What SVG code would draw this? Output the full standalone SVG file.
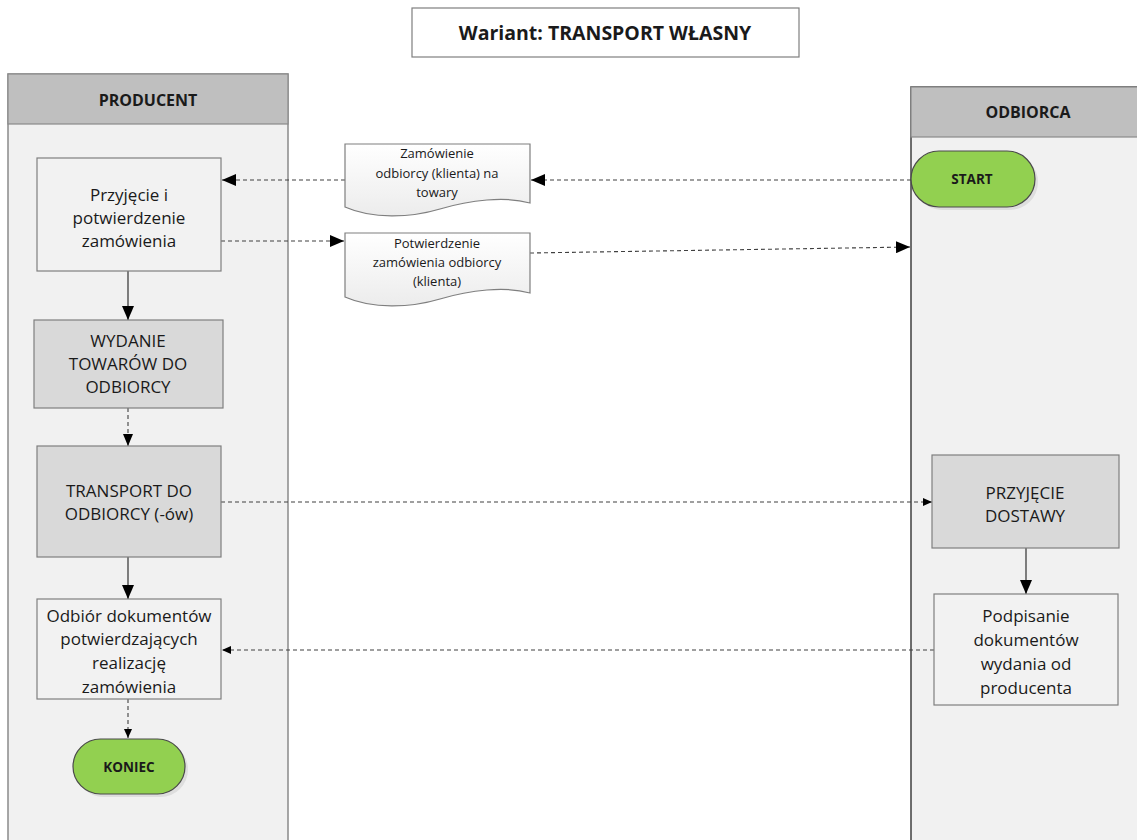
<svg xmlns="http://www.w3.org/2000/svg" width="1137" height="840" viewBox="0 0 1137 840">
  <defs>
    <style>
      text { font-family: "Open Sans", "Liberation Sans", sans-serif; fill: #1a1a1a; text-anchor: middle; dominant-baseline: central; }
      .t { font-size: 17px; }
      .d { font-size: 13px; }
      .h { font-size: 16px; font-weight: bold; }
      .ttl { font-size: 19.5px; font-weight: bold; }
      .term { font-size: 13.5px; font-weight: bold; }
      .lane { fill: #f1f1f1; stroke: #8a8a8a; stroke-width: 1.5; }
      .lane2 { fill: #f1f1f1; stroke: #404040; stroke-width: 1.5; }
      .head { fill: #bfbfbf; stroke: #8a8a8a; stroke-width: 1.2; }
      .box { fill: #f2f2f2; stroke: #7f7f7f; stroke-width: 1.2; }
      .gbox { fill: #d9d9d9; stroke: #7f7f7f; stroke-width: 1.2; }
      .doc { fill: url(#docfill); stroke: #7f7f7f; stroke-width: 1.2; }
      .termshape { fill: #92d050; stroke: #4a4a4a; stroke-width: 1.2; }
      .sh { fill: #000; opacity: 0.08; }
      .solid { fill: none; stroke: #404040; stroke-width: 1.3; }
      .dash { fill: none; stroke: #404040; stroke-width: 1.1; stroke-dasharray: 4 3; }
    </style>
    <linearGradient id="docfill" x1="0" y1="0" x2="0" y2="1">
      <stop offset="0" stop-color="#ffffff"/>
      <stop offset="1" stop-color="#ececec"/>
    </linearGradient>
    <marker id="big" markerWidth="14" markerHeight="12" refX="14" refY="6" orient="auto" markerUnits="userSpaceOnUse">
      <path d="M0,0 L14,6 L0,12 Z" fill="#000"/>
    </marker>
    <marker id="mid" markerWidth="12" markerHeight="10" refX="12" refY="5" orient="auto" markerUnits="userSpaceOnUse">
      <path d="M0,0 L12,5 L0,10 Z" fill="#000"/>
    </marker>
    <marker id="small" markerWidth="9" markerHeight="8" refX="9" refY="4" orient="auto" markerUnits="userSpaceOnUse">
      <path d="M0,0 L9,4 L0,8 Z" fill="#000"/>
    </marker>
  </defs>

  <rect width="1137" height="840" fill="#ffffff"/>

  <!-- title -->
  <g id="title">
    <rect x="412" y="8" width="387" height="49" fill="#ffffff" stroke="#7f7f7f" stroke-width="1.2"/>
    <text class="ttl" x="605" y="32">Wariant: TRANSPORT WŁASNY</text>
  </g>

  <!-- swimlanes -->
  <g id="lane-producent">
    <rect class="lane" x="8" y="74" width="280" height="780"/>
    <rect class="head" x="8" y="74" width="280" height="50"/>
    <text class="h" x="148" y="100">PRODUCENT</text>
  </g>
  <g id="lane-odbiorca">
    <rect class="lane2" x="911" y="87" width="240" height="770"/>
    <rect class="head" x="911" y="87" width="240" height="50" stroke="#404040"/>
    <text class="h" x="1028" y="112">ODBIORCA</text>
  </g>

  <!-- connectors -->
  <g id="connectors">
    <line class="dash" x1="911" y1="180" x2="531" y2="180" marker-end="url(#big)"/>
    <line class="dash" x1="345" y1="180" x2="222" y2="180" marker-end="url(#big)"/>
    <line class="dash" x1="221" y1="241" x2="344" y2="241" marker-end="url(#big)"/>
    <line class="dash" x1="530" y1="253" x2="910" y2="247" marker-end="url(#big)"/>
    <line class="solid" x1="128" y1="271" x2="128" y2="320" marker-end="url(#big)"/>
    <line class="dash" x1="128" y1="408" x2="128" y2="446" marker-end="url(#mid)"/>
    <line class="dash" x1="221" y1="502" x2="932" y2="502" marker-end="url(#small)"/>
    <line class="solid" x1="128" y1="557" x2="128" y2="599" marker-end="url(#big)"/>
    <line class="solid" x1="1026" y1="548" x2="1026" y2="594" marker-end="url(#big)"/>
    <line class="dash" x1="934" y1="650" x2="222" y2="650" marker-end="url(#small)"/>
    <line class="dash" x1="128" y1="699" x2="128" y2="738" marker-end="url(#small)"/>
  </g>

  <!-- producer tasks -->
  <g id="przyjecie-zamowienia">
    <rect class="box" x="37" y="158" width="184" height="113"/>
    <text class="t" x="129" y="194">Przyjęcie i</text>
    <text class="t" x="129" y="217">potwierdzenie</text>
    <text class="t" x="129" y="240">zamówienia</text>
  </g>
  <g id="wydanie-towarow">
    <rect class="gbox" x="34" y="320" width="189" height="88"/>
    <text class="t" x="128" y="340">WYDANIE</text>
    <text class="t" x="128" y="363">TOWARÓW DO</text>
    <text class="t" x="128" y="386">ODBIORCY</text>
  </g>
  <g id="transport">
    <rect class="gbox" x="37" y="446" width="184" height="111"/>
    <text class="t" x="129" y="490">TRANSPORT DO</text>
    <text class="t" x="129" y="513">ODBIORCY (-ów)</text>
  </g>
  <g id="odbior-dokumentow">
    <rect class="box" x="37" y="599" width="184" height="100"/>
    <text class="t" x="129" y="615">Odbiór dokumentów</text>
    <text class="t" x="129" y="638">potwierdzających</text>
    <text class="t" x="129" y="662">realizację</text>
    <text class="t" x="129" y="686">zamówienia</text>
  </g>
  <g id="koniec">
    <rect class="sh" x="76" y="742" width="112" height="55" rx="27.5"/>
    <rect class="termshape" x="73" y="739" width="112" height="55" rx="27.5"/>
    <text class="term" x="129" y="767">KONIEC</text>
  </g>

  <!-- documents -->
  <g id="dok-zamowienie">
    <path class="doc" d="M345,144 H530 V203 C505,196 470,200 440,209 C410,218 372,219 345,207 Z"/>
    <text class="d" x="437" y="153">Zamówienie</text>
    <text class="d" x="437" y="173">odbiorcy (klienta) na</text>
    <text class="d" x="437" y="192">towary</text>
  </g>
  <g id="dok-potwierdzenie">
    <path class="doc" d="M345,233 H530 V293 C505,286 470,290 440,299 C410,308 372,309 345,297 Z"/>
    <text class="d" x="437" y="243">Potwierdzenie</text>
    <text class="d" x="437" y="262">zamówienia odbiorcy</text>
    <text class="d" x="437" y="281">(klienta)</text>
  </g>

  <!-- receiver tasks -->
  <g id="start">
    <rect class="sh" x="914" y="154" width="124" height="56" rx="28"/>
    <rect class="termshape" x="911" y="151" width="124" height="56" rx="28"/>
    <text class="term" x="972" y="179">START</text>
  </g>
  <g id="przyjecie-dostawy">
    <rect class="gbox" x="932" y="455" width="187" height="93"/>
    <text class="t" x="1025" y="492">PRZYJĘCIE</text>
    <text class="t" x="1025" y="515">DOSTAWY</text>
  </g>
  <g id="podpisanie-dokumentow">
    <rect class="box" x="934" y="594" width="184" height="111"/>
    <text class="t" x="1026" y="615">Podpisanie</text>
    <text class="t" x="1026" y="639">dokumentów</text>
    <text class="t" x="1026" y="663">wydania od</text>
    <text class="t" x="1026" y="687">producenta</text>
  </g>
</svg>
